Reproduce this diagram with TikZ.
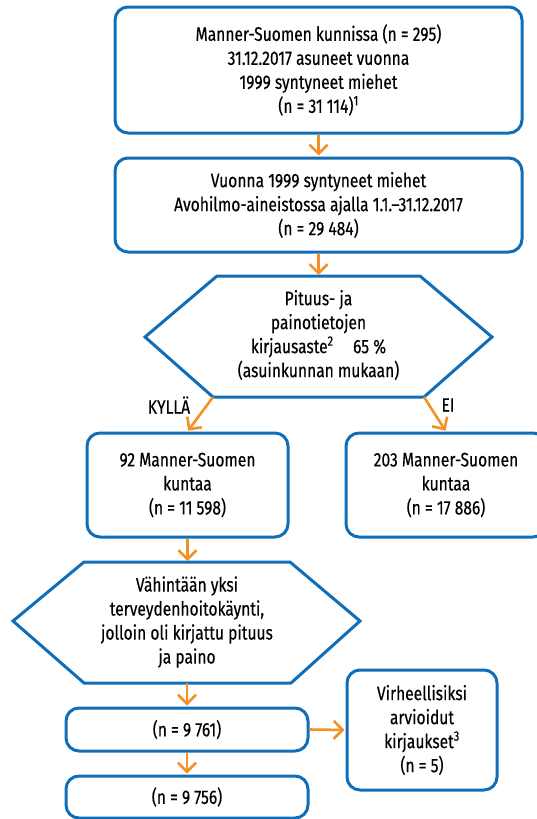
\documentclass[tikz,border=0pt]{standalone}
\usepackage{fontspec}
\setmainfont{Fira Sans}[FakeStretch=0.8,FakeBold=0.3]
\usetikzlibrary{arrows.meta}
\definecolor{flowblue}{RGB}{16,110,185}
\definecolor{floworange}{RGB}{245,145,35}

\begin{document}
\begin{tikzpicture}[x=1pt,y=-1pt,
  font=\fontsize{19.5}{24}\selectfont,
  box/.style={draw=flowblue, line width=3pt, rounded corners=13pt, align=center, inner sep=0pt},
  hexline/.style={draw=flowblue, line width=3pt, line join=miter},
  flow/.style={draw=floworange, line width=2.6pt, -{Straight Barb[length=9pt,width=18pt]}, shorten >=1pt}]

\useasboundingbox (0,0) rectangle (537,819);

\path (318.5,70) node (start) [box, minimum width=407pt, minimum height=126pt] {Manner-Suomen kunnissa (n = 295)\\ 31.12.2017 asuneet vuonna\\ 1999 syntyneet miehet\\ (n = 31~114)\textsuperscript{1}};
\path (318.5,205) node (cohort) [box, minimum width=407pt, minimum height=94pt] {Vuonna 1999 syntyneet miehet\\ Avohilmo-aineistossa ajalla 1.1.--31.12.2017\\ (n = 29~484)};

% first decision
\path (145,337) coordinate (qw) (217,276) coordinate (qnw) (420,276) coordinate (qne)
      (492,337) coordinate (qe) (424,397) coordinate (qse) (213,397) coordinate (qsw);
\draw[hexline] (qw) -- (qnw) -- (qne) -- (qe) -- (qse) -- (qsw) -- cycle;
\path (318.5,335) node (quality) [align=center] {Pituus- ja\\ painotietojen\\ kirjausaste\textsuperscript{2}\quad 65~\%\\ (asuinkunnan mukaan)};

\path (187.5,485) node (yes) [box, minimum width=201pt, minimum height=104pt] {92 Manner-Suomen\\ kuntaa\\ (n = 11~598)};
\path (446,485) node (no) [box, minimum width=200pt, minimum height=104pt] {203 Manner-Suomen\\ kuntaa\\ (n = 17~886)};

\path (169,405) node (lblyes) {KYLLÄ};
\path (448,405) node (lblno) {EI};

% second decision
\path (13,621) coordinate (vw) (84,562) coordinate (vnw) (290,562) coordinate (vne)
      (360,621) coordinate (ve) (291,683) coordinate (vse) (84,683) coordinate (vsw);
\draw[hexline] (vw) -- (vnw) -- (vne) -- (ve) -- (vse) -- (vsw) -- cycle;
\path (187,622) node (visit) [align=center] {Vähintään yksi\\ terveydenhoitokäynti,\\ jolloin oli kirjattu pituus\\ ja paino};

\path (187,729.5) node (valid) [box, minimum width=242pt, minimum height=43pt] {(n = 9~761)};
\path (187,797) node (final) [box, minimum width=242pt, minimum height=42pt] {(n = 9~756)};
\path (422,730) node (errors) [box, minimum width=150pt, minimum height=120pt] {Virheellisiksi\\ arvioidut\\ kirjaukset\textsuperscript{3}\\ (n = 5)};

\draw[flow] (start.south) -- (cohort.north);
\draw[flow] (cohort.south) -- (qnw -| cohort.south);
\draw[flow] (qsw) -- (yes.north);
\draw[flow] (qse) -- (no.north);
\draw[flow] (yes.south) -- (vnw -| yes.south);
\draw[flow] (vsw -| valid.north) -- (valid.north);
\draw[flow] (valid.south) -- (final.north);
\draw[flow] (valid.east) -- (errors.west);

\end{tikzpicture}
\end{document}
